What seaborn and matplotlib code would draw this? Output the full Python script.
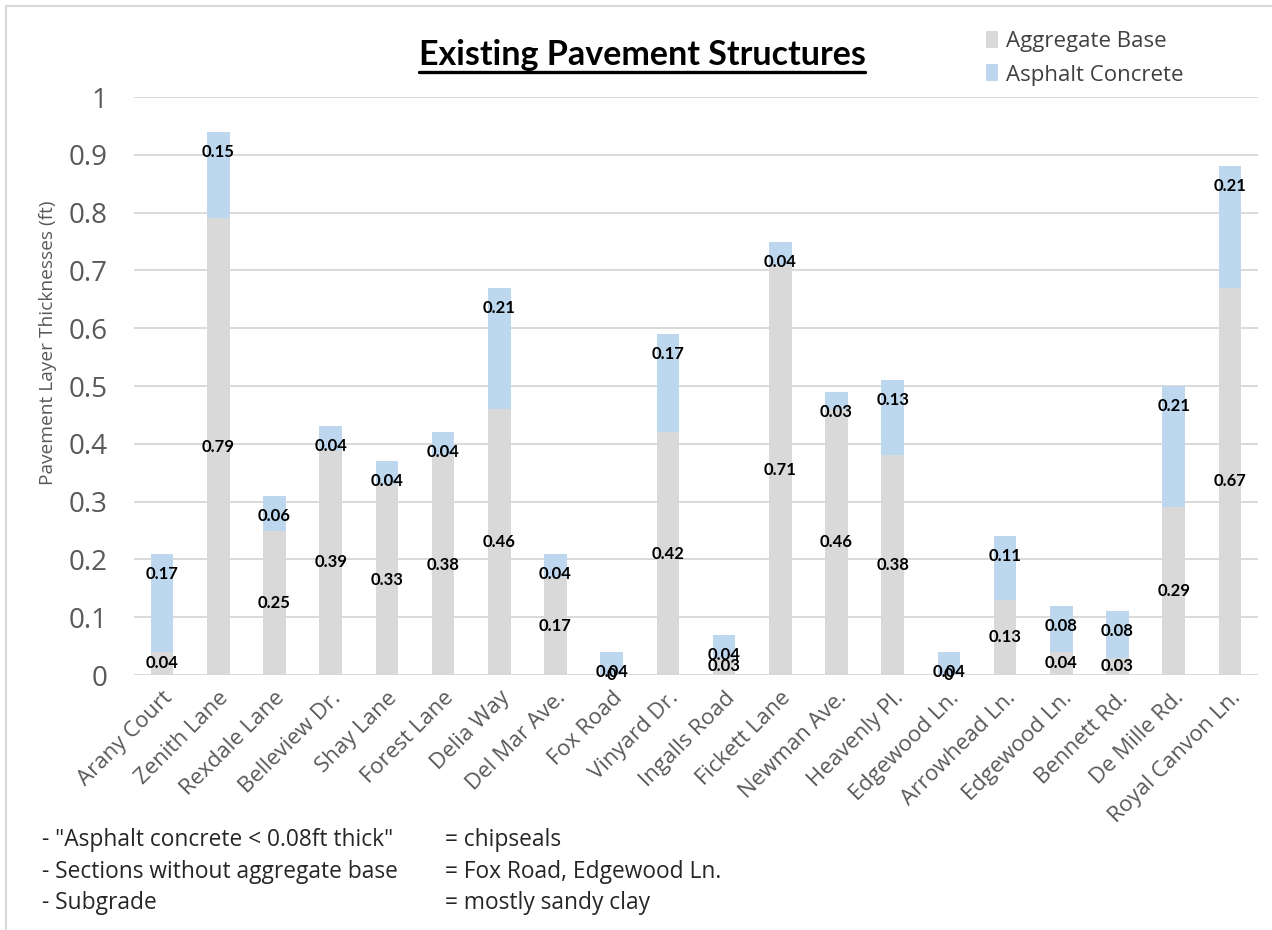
import matplotlib
matplotlib.use("Agg")
import matplotlib.pyplot as plt
from matplotlib.lines import Line2D
from matplotlib.patches import Patch
import seaborn as sns
import pandas as pd

# Road sections and layer thicknesses (ft)
sections = ["Arany Court", "Zenith Lane", "Rexdale Lane", "Belleview Dr.", "Shay Lane",
            "Forest Lane", "Delia Way", "Del Mar Ave.", "Fox Road", "Vinyard Dr.",
            "Ingalls Road", "Fickett Lane", "Newman Ave.", "Heavenly Pl.", "Edgewood Ln.",
            "Arrowhead Ln.", "Edgewood Ln.", "Bennett Rd.", "De Mille Rd.", "Royal Canvon Ln."]
aggregate_base = [0.04, 0.79, 0.25, 0.39, 0.33, 0.38, 0.46, 0.17, 0.0, 0.42,
                  0.03, 0.71, 0.46, 0.38, 0.0, 0.13, 0.04, 0.03, 0.29, 0.67]
asphalt_concrete = [0.17, 0.15, 0.06, 0.04, 0.04, 0.04, 0.21, 0.04, 0.04, 0.17,
                    0.04, 0.04, 0.03, 0.13, 0.04, 0.11, 0.08, 0.08, 0.21, 0.21]
y_ticks = [0, 0.1, 0.2, 0.3, 0.4, 0.5, 0.6, 0.7, 0.8, 0.9, 1]
y_tick_labels = ["0", "0.1", "0.2", "0.3", "0.4", "0.5", "0.6", "0.7", "0.8", "0.9", "1"]
notes_left = ['- "Asphalt concrete < 0.08ft thick"', "- Sections without aggregate base", "- Subgrade"]
notes_right = ["= chipseals", "= Fox Road, Edgewood Ln.", "= mostly sandy clay"]

BASE_COLOR = "#d9d9d9"
AC_COLOR = "#bdd7ee"
GRID_COLOR = "#d9d9d9"
AXIS_TEXT = "#595959"

sns.set_theme(style="white")
plt.rcParams["font.family"] = ["Open Sans", "DejaVu Sans"]

df = pd.DataFrame({
    "idx": list(range(len(sections))),
    "section": sections,
    "base": aggregate_base,
    "ac": asphalt_concrete,
})
df["total"] = df["base"] + df["ac"]

W, H = 1272, 930
fig = plt.figure(figsize=(W / 100, H / 100), dpi=100)
ax = fig.add_axes([134 / W, 1 - 675 / H, (1258 - 134) / W, (675 - 97) / H])

# Stacked bars: full height in blue, aggregate base drawn over it in gray
sns.barplot(data=df, x="idx", y="total", color=AC_COLOR, width=0.4,
            saturation=1, ax=ax, zorder=3)
sns.barplot(data=df, x="idx", y="base", color=BASE_COLOR, width=0.4,
            saturation=1, ax=ax, zorder=3)
for p in ax.patches:
    p.set_edgecolor("none")

ax.set_xlim(-0.5, len(sections) - 0.5)
ax.set_ylim(0, 1)
ax.set_yticks(y_ticks)
ax.set_yticklabels(y_tick_labels, fontsize=20, color=AXIS_TEXT)
ax.set_xticks(range(len(sections)))
ax.set_xticklabels(sections, rotation=45, ha="right", va="top",
                   rotation_mode="anchor", fontsize=16, color=AXIS_TEXT)
ax.tick_params(axis="both", length=0)
ax.tick_params(axis="y", pad=19)
ax.tick_params(axis="x", pad=9)
ax.set_xlabel("")
ax.set_ylabel("")
for s in ax.spines.values():
    s.set_visible(False)
ax.yaxis.grid(True, color=GRID_COLOR, linewidth=1.4, zorder=0)
ax.set_axisbelow(True)

label_font = dict(family=["Lato", "DejaVu Sans"], fontsize=12, fontweight="bold",
                  color="#000000", ha="center", va="center", zorder=5)
for i, row in df.iterrows():
    b = row["base"]
    ax.text(row["idx"], b / 2, f"{b:g}", **label_font)
    ax.annotate(f"{row['ac']:g}", xy=(row["idx"], row["total"]),
                xytext=(0, -20), textcoords="offset pixels", **label_font)

# Axis title
fig.text(48 / W, 1 - 343 / H, "Pavement Layer Thicknesses (ft)", rotation=90,
         ha="center", va="center", fontsize=13.8, color=AXIS_TEXT)

# Chart title with underline
title = fig.text(642 / W, 1 - 55 / H, "Existing Pavement Structures",
                 ha="center", va="center", fontsize=24.5, fontweight="bold",
                 family=["Lato", "DejaVu Sans"], color="#000000")
renderer = fig.canvas.get_renderer()
bb = title.get_window_extent(renderer=renderer)
fig.add_artist(Line2D([bb.x0 / W, bb.x1 / W], [1 - 72 / H, 1 - 72 / H],
                      color="#000000", linewidth=2.4, transform=fig.transFigure))

# Legend
handles = [Patch(facecolor=BASE_COLOR, edgecolor="none", label="Aggregate Base"),
           Patch(facecolor=AC_COLOR, edgecolor="none", label="Asphalt Concrete")]
fig.legend(handles=handles, loc="upper left", bbox_to_anchor=(966 / W, 1 - 11 / H),
           frameon=False, fontsize=16, handlelength=0.55, handleheight=0.8,
           handletextpad=0.35, labelspacing=0.55, labelcolor="#404040")

# Notes below the chart
for k, (l, r) in enumerate(zip(notes_left, notes_right)):
    y = 1 - (840 + 31.5 * k) / H
    fig.text(42 / W, y, l, ha="left", va="center", fontsize=16.4, color="#262626")
    fig.text(445 / W, y, r, ha="left", va="center", fontsize=16.4, color="#262626")

# Chart frame
frame_kw = dict(color="#d9d9d9", linewidth=1.5, transform=fig.transFigure)
fig.add_artist(Line2D([6 / W, 1], [1 - 6 / H, 1 - 6 / H], **frame_kw))
fig.add_artist(Line2D([6 / W, 6 / W], [0, 1 - 6 / H], **frame_kw))

fig.savefig("out.png", dpi=100, facecolor="white")
